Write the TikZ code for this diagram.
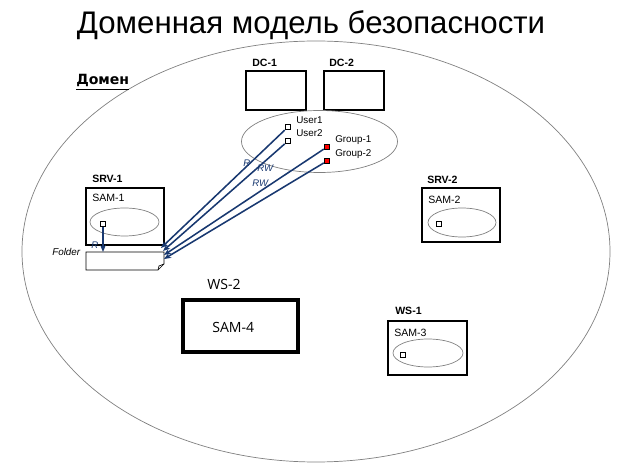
\documentclass[tikz,border=0pt]{standalone}
\usepackage{fontspec}
\setmainfont{Liberation Sans}
\newfontfamily\wsfont{Open Sans}
\newfontfamily\domfont{DejaVu Sans}
\usetikzlibrary{arrows.meta}

\definecolor{linkblue}{RGB}{24,56,112}

\begin{document}
\begin{tikzpicture}[x=0.025cm,y=-0.025cm,>=Stealth,
  host/.style={draw, line width=1.2pt},
  pool/.style={draw=gray, line width=0.5pt},
  acct/.style={draw, fill=white, line width=0.6pt, inner sep=0pt, minimum size=4pt},
  grp/.style={acct, fill=red},
  lbl/.style={anchor=base west, inner sep=0pt, font=\fontsize{7}{8}\selectfont},
  hostlbl/.style={lbl, font=\bfseries\fontsize{7.5}{9}\selectfont},
  samlbl/.style={lbl, font=\fontsize{7.5}{9}\selectfont},
  right/.style={lbl, text=linkblue, font=\itshape\fontsize{6.8}{8}\selectfont},
  link/.style={->, linkblue, line width=1.1pt, >={Stealth[length=5pt,width=4pt]}}]

  \useasboundingbox (0,0) rectangle (620,465);

  % --- title -----------------------------------------------------
  \node[font=\fontsize{22.2}{25}\selectfont] (title) at (311,25) {Доменная модель безопасности};

  % --- domain ----------------------------------------------------
  \draw[pool] (316,251.5) ellipse [x radius=294, y radius=210.5];
  \node[lbl, font=\domfont\bfseries\fontsize{10}{11}\selectfont] (dom) at (76,85) {\underline{Домен}};

  % --- domain controllers ----------------------------------------
  \draw[host] (246,71) rectangle (306,110);
  \node[hostlbl] (dc1) at (252,67) {DC-1};
  \draw[host] (324,71) rectangle (384,110);
  \node[hostlbl] (dc2) at (329,67) {DC-2};

  % domain accounts
  \draw[pool] (319.5,141.5) ellipse [x radius=78, y radius=31];
  \node[acct] (u1) at (288,127) {};
  \node[acct] (u2) at (288,141) {};
  \node[grp]  (g1) at (327,147) {};
  \node[grp]  (g2) at (327,161) {};
  \node[lbl] at (296,124) {User1};
  \node[lbl] at (296,137) {User2};
  \node[lbl] at (335,143) {Group-1};
  \node[lbl] at (335,157) {Group-2};

  % --- SRV-1 with folder -----------------------------------------
  \draw[host] (86,188) rectangle (164,245);
  \node[hostlbl] (srv1) at (92,183) {SRV-1};
  \node[samlbl] (sam1) at (92,202) {SAM-1};
  \draw[pool] (124.5,222) ellipse [x radius=34.5, y radius=14];
  \node[acct] (l1) at (103,224) {};

  \draw[line width=0.5pt] (86,252) -- (164,252) -- (164,264)
        -- (158,270) -- (86,270) -- cycle;
  \draw[line width=0.5pt] (158,270) -- (159,266) -- (164,264);
  \node[lbl, font=\itshape\fontsize{7}{8}\selectfont] (fold) at (52,256) {Folder};
  \coordinate (f0) at (103,252);
  \coordinate (f1) at (161,248);
  \coordinate (f2) at (163,251);
  \coordinate (f3) at (164,255);
  \coordinate (f4) at (164,259);

  % --- permissions -----------------------------------------------
  \draw[link] (l1) -- (f0);
  \draw[link] (u1) -- (f1);
  \draw[link] (u2) -- (f2);
  \draw[link] (g1) -- (f3);
  \draw[link] (g2) -- (f4);
  \node[right] at (91,249) {R};
  \node[right] at (243,167) {R};
  \node[right] at (257,172) {RW};
  \node[right] at (252,187) {RW};

  % --- SRV-2 -----------------------------------------------------
  \draw[host] (422,188) rectangle (500,242);
  \node[hostlbl] (srv2) at (427,184) {SRV-2};
  \node[samlbl] (sam2) at (428,204) {SAM-2};
  \draw[pool] (462,222.5) ellipse [x radius=34, y radius=14.5];
  \node[acct] (l2) at (439,224) {};

  % --- WS-1 ------------------------------------------------------
  \draw[host] (388,321) rectangle (467,375);
  \node[hostlbl] (ws1) at (395,315) {WS-1};
  \node[samlbl] (sam3) at (394,337) {SAM-3};
  \draw[pool] (428,353) ellipse [x radius=35, y radius=14];
  \node[acct] (l3) at (403,355) {};

  % --- WS-2 ------------------------------------------------------
  \draw[line width=3.5pt] (183,300) rectangle (298,352);
  \node[lbl, font=\wsfont\fontsize{10}{12}\selectfont] (ws2) at (207,290) {WS-2};
  \node[lbl, font=\wsfont\fontsize{10}{12}\selectfont] (sam4) at (212,333) {SAM-4};

\end{tikzpicture}
\end{document}
